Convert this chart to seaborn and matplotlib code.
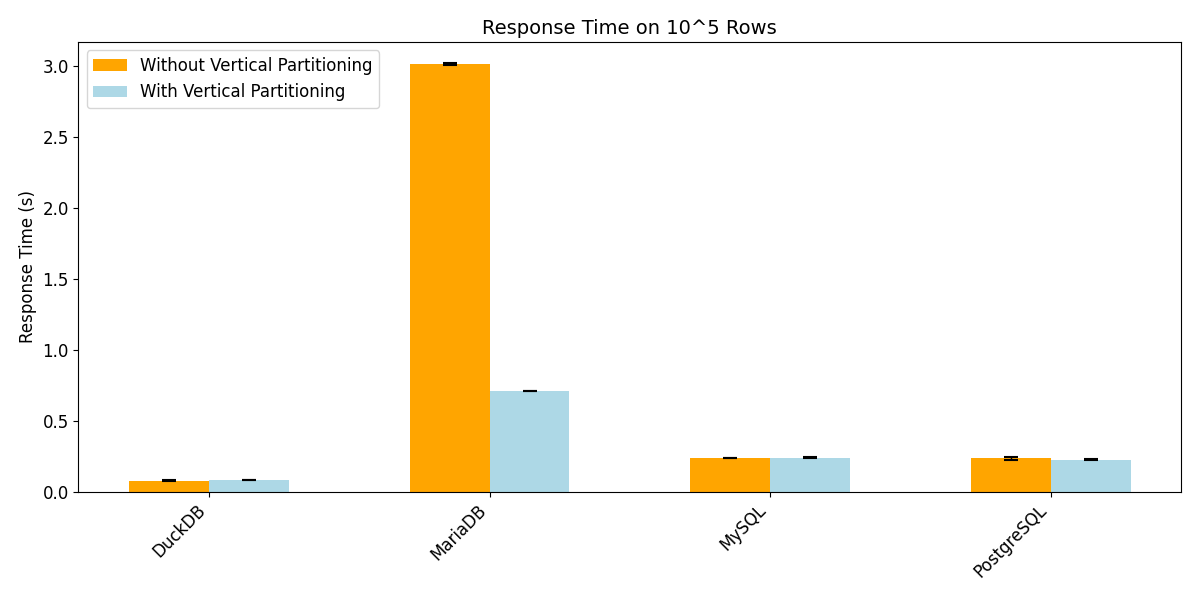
import numpy as np
import pandas as pd
import seaborn as sns
import matplotlib
matplotlib.use("Agg")
import matplotlib.pyplot as plt

bancos = ["DuckDB", "MariaDB", "MySQL", "PostgreSQL"]
series = ["Without Vertical Partitioning", "With Vertical Partitioning"]
tempo_sem = [0.077, 3.010, 0.237, 0.236]
tempo_com = [0.083, 0.708, 0.240, 0.226]
erro_sem = [0.002, 0.005, 0.002, 0.010]
erro_com = [0.002, 0.002, 0.006, 0.002]
cores = ["orange", "lightblue"]

df = pd.DataFrame({
    "Banco": bancos * 2,
    "Tipo": [series[0]] * 4 + [series[1]] * 4,
    "Tempo": tempo_sem + tempo_com,
    "Erro": erro_sem + erro_com,
})

fig, ax = plt.subplots(figsize=(12, 6), dpi=100)
sns.barplot(data=df, x="Banco", y="Tempo", hue="Tipo", hue_order=series,
            palette=cores, saturation=1, width=0.57, errorbar=None,
            linewidth=0, ax=ax)

# barras de erro nos centros das barras
largura = 0.57 / 2
for k, nome in enumerate(series):
    sub = df[df["Tipo"] == nome]
    xs = np.arange(len(bancos)) + (k - 0.5) * largura
    ax.errorbar(xs, sub["Tempo"], yerr=sub["Erro"], fmt="none",
                ecolor="black", elinewidth=1, capsize=5, capthick=1.5)

ax.set_xlim(-largura - 0.18, len(bancos) - 1 + largura + 0.18)
ax.set_title("Response Time on 10^5 Rows", fontsize=14)
ax.set_xlabel("")
ax.set_ylabel("Response Time (s)", fontsize=12)
ax.tick_params(axis="both", labelsize=12)
plt.setp(ax.get_xticklabels(), rotation=45, ha="right")
ax.legend(title=None, loc="upper left", fontsize=12)
plt.tight_layout(pad=1.35)
plt.savefig("out.png")
